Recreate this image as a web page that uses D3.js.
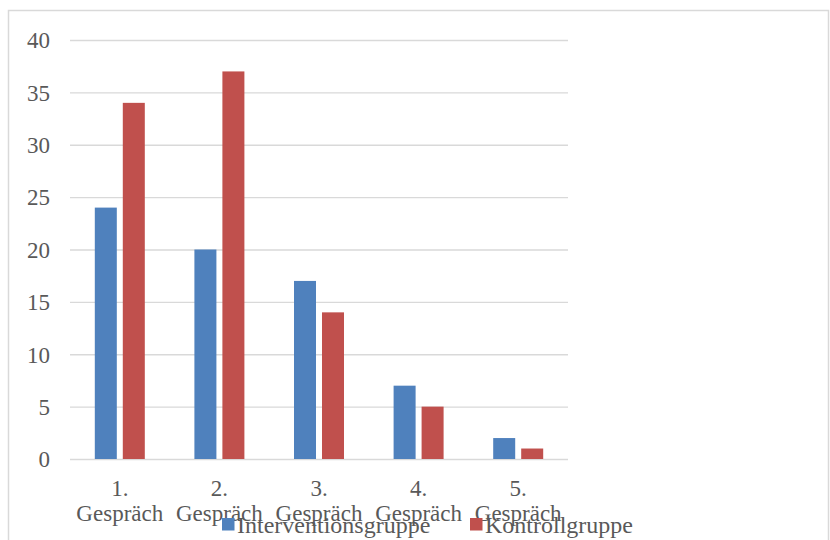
<!DOCTYPE html>
<html>
<head>
<meta charset="utf-8">
<script src="https://cdn.jsdelivr.net/npm/d3@7"></script>
<style>
  html, body { margin: 0; padding: 0; background: #fff; }
  svg { display: block; }
</style>
</head>
<body>
<svg id="chart" width="830" height="540"></svg>
<script>
// Anzahl je Gespräch, getrennt nach Gruppe
const categories = ["1. Gespräch", "2. Gespräch", "3. Gespräch", "4. Gespräch", "5. Gespräch"];
const seriesNames = ["Interventionsgruppe", "Kontrollgruppe"];
const interventionValues = [24, 20, 17, 7, 2];
const kontrollValues = [34, 37, 14, 5, 1];
const yTicks = [0, 5, 10, 15, 20, 25, 30, 35, 40];
const seriesColors = ["#4F81BD", "#C0504D"];

const seriesValues = [interventionValues, kontrollValues];
const rows = categories.map((c, i) => ({
  category: c,
  values: seriesNames.map((s, j) => ({ series: s, value: seriesValues[j][i] }))
}));

const svg = d3.select("#chart");
const font = "'Liberation Serif', 'Times New Roman', serif";
const textColor = "#595959";
const gridColor = "#D9D9D9";

// outer chart frame
svg.append("rect")
  .attr("x", 8.5).attr("y", 10.5)
  .attr("width", 820).attr("height", 560)
  .attr("fill", "none")
  .attr("stroke", gridColor)
  .attr("stroke-width", 1.5);

const plot = { left: 70, right: 568, top: 40, bottom: 459 };

const x0 = d3.scaleBand()
  .domain(categories)
  .range([plot.left, plot.right])
  .padding(0);

const bw = x0.bandwidth();
const x1 = d3.scaleBand()
  .domain(seriesNames)
  .range([bw * 0.249, bw * 0.751])
  .paddingInner(0.214)
  .paddingOuter(0);

const y = d3.scaleLinear()
  .domain([0, 40])
  .range([plot.bottom, plot.top]);

const color = d3.scaleOrdinal().domain(seriesNames).range(seriesColors);

// horizontal gridlines and value labels
const yAxis = d3.axisLeft(y)
  .tickValues(yTicks)
  .tickSize(-(plot.right - plot.left))
  .tickPadding(20)
  .tickFormat(d3.format("d"));

const yg = svg.append("g")
  .attr("transform", `translate(${plot.left},0)`)
  .call(yAxis);
yg.select(".domain").remove();
yg.selectAll(".tick line")
  .attr("stroke", gridColor)
  .attr("stroke-width", 1.3);
yg.selectAll(".tick text")
  .attr("fill", textColor)
  .attr("font-family", font)
  .attr("font-size", 23)
  .attr("dy", "0.34em");

// bars
const groups = svg.append("g")
  .selectAll("g")
  .data(rows)
  .join("g")
  .attr("transform", d => `translate(${x0(d.category)},0)`);

groups.selectAll("rect")
  .data(d => d.values)
  .join("rect")
  .attr("x", d => x1(d.series))
  .attr("y", d => y(d.value))
  .attr("width", x1.bandwidth())
  .attr("height", d => y(0) - y(d.value))
  .attr("fill", d => color(d.series));

// category labels, wrapped in two lines
const xg = svg.append("g");
categories.forEach(c => {
  const parts = c.split(" ");
  const t = xg.append("text")
    .attr("x", x0(c) + bw / 2)
    .attr("y", 496)
    .attr("text-anchor", "middle")
    .attr("fill", textColor)
    .attr("font-family", font)
    .attr("font-size", 23);
  parts.forEach((p, i) => {
    t.append("tspan")
      .attr("x", x0(c) + bw / 2)
      .attr("dy", i === 0 ? 0 : 25)
      .text(p);
  });
});

// legend
const legendX = [222, 470];
const legend = svg.append("g");
seriesNames.forEach((s, i) => {
  legend.append("rect")
    .attr("x", legendX[i]).attr("y", 518)
    .attr("width", 12.5).attr("height", 12.5)
    .attr("fill", color(s));
  legend.append("text")
    .attr("x", legendX[i] + 15)
    .attr("y", 533)
    .attr("fill", textColor)
    .attr("font-family", font)
    .attr("font-size", 24)
    .text(s);
});
</script>
</body>
</html>
